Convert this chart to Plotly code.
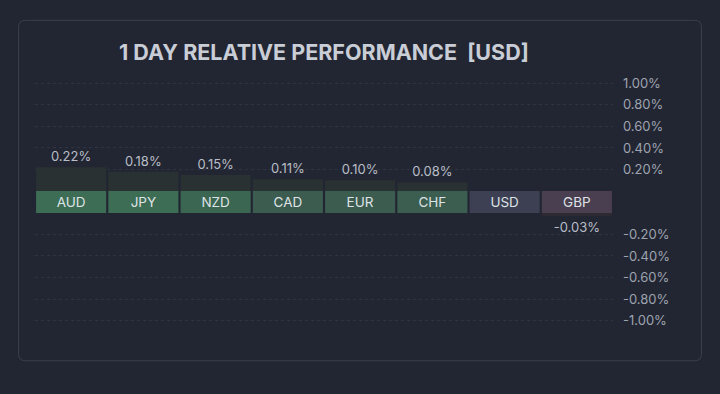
import plotly.graph_objects as go

currencies = ["AUD", "JPY", "NZD", "CAD", "EUR", "CHF", "USD", "GBP"]
changes = [0.22, 0.18, 0.15, 0.11, 0.10, 0.08, 0.00, -0.03]
box_colors = ["#3d6e55", "#3d6d55", "#3b6652", "#3c5c50", "#3c5c50", "#3c5e50", "#3c4052", "#4a3f51"]
pos_ticks = [0.2, 0.4, 0.6, 0.8, 1.0]
neg_ticks = [-0.2, -0.4, -0.6, -0.8, -1.0]
title_text = "1 DAY RELATIVE PERFORMANCE \u00a0[USD]"

W, H = 720, 394
BG = "#222632"
FONT = "Inter, Roboto, sans-serif"

def fx(px):
    return px / W

def fy(px):
    return 1 - px / H

x_dom = [fx(35), fx(613)]

pos_vals = [v if v > 0 else None for v in changes]
neg_vals = [v if v < 0 else None for v in changes]
pos_text = [f"{v:.2f}%" if v > 0 else "" for v in changes]
neg_text = [f"{v:.2f}%" if v < 0 else "" for v in changes]

fig = go.Figure()

fig.add_trace(go.Bar(
    x=currencies, y=pos_vals, text=pos_text, textposition="outside",
    textfont=dict(color="#b9bdc7", size=13, family=FONT),
    marker=dict(color="#2a3132", line=dict(width=0)),
    xaxis="x", yaxis="y", hoverinfo="skip", cliponaxis=False,
))
fig.add_trace(go.Bar(
    x=currencies, y=[1] * len(currencies), text=currencies, textposition="inside",
    insidetextanchor="middle", constraintext="none",
    textfont=dict(color="#dfe2e6", size=13.5, family=FONT),
    marker=dict(color=box_colors, line=dict(width=0)),
    xaxis="x2", yaxis="y2", hoverinfo="skip",
))
fig.add_trace(go.Bar(
    x=currencies, y=neg_vals, text=neg_text, textposition="outside",
    textfont=dict(color="#b9bdc7", size=13, family=FONT),
    marker=dict(color="#2d2a33", line=dict(width=0)),
    xaxis="x3", yaxis="y3", hoverinfo="skip", cliponaxis=False,
))

grid = dict(showgrid=True, gridcolor="#2f3440", griddash="dot", gridwidth=1, zeroline=False,
            side="right", ticks="", ticklabelstandoff=9, showline=False,
            tickfont=dict(color="#9ea3b0", size=13, family=FONT))
xcommon = dict(domain=x_dom, showgrid=False, showticklabels=False, zeroline=False,
               showline=False, ticks="", fixedrange=True)

fig.update_layout(
    width=W, height=H, paper_bgcolor=BG, plot_bgcolor="rgba(0,0,0,0)",
    margin=dict(l=0, r=0, t=0, b=0), showlegend=False, bargap=0.03,
    xaxis=dict(**xcommon, anchor="y"),
    xaxis2=dict(**xcommon, anchor="y2", matches="x"),
    xaxis3=dict(**xcommon, anchor="y3", matches="x"),
    yaxis=dict(**grid, domain=[fy(190.5), fy(75.5)], range=[0, 1.06], anchor="x",
               tickvals=pos_ticks, ticktext=[f"{v:.2f}%" for v in pos_ticks]),
    yaxis2=dict(domain=[fy(212.5), fy(190.5)], range=[0, 1], anchor="x2",
                showgrid=False, showticklabels=False, zeroline=False, ticks=""),
    yaxis3=dict(**grid, domain=[fy(327.5), fy(212.5)], range=[-1.06, 0], anchor="x3",
                tickvals=neg_ticks, ticktext=[f"{v:.2f}%" for v in neg_ticks]),
)

# rounded panel border
x0, x1, y0, y1, r = 18.5, 701.5, 18.5, 361.5, 7
def P(x, y):
    return f"{fx(x):.5f},{fy(y):.5f}"
path = (f"M {P(x0 + r, y0)} L {P(x1 - r, y0)} Q {P(x1, y0)} {P(x1, y0 + r)} "
        f"L {P(x1, y1 - r)} Q {P(x1, y1)} {P(x1 - r, y1)} "
        f"L {P(x0 + r, y1)} Q {P(x0, y1)} {P(x0, y1 - r)} "
        f"L {P(x0, y0 + r)} Q {P(x0, y0)} {P(x0 + r, y0)} Z")
fig.add_shape(type="path", path=path, xref="paper", yref="paper",
              line=dict(color="#3a3f4a", width=1), fillcolor="rgba(0,0,0,0)", layer="below")

fig.add_annotation(text=f"<b>{title_text}</b>", x=fx(324), y=fy(50), xref="paper", yref="paper",
                   xanchor="center", yanchor="middle", showarrow=False,
                   font=dict(size=21.5, color="#c9cdd6", family=FONT))

fig.write_html(
    "out.html",
    config={"displayModeBar": False, "staticPlot": True},
    post_script="document.body.style.margin='0';document.body.style.background='#222632';",
)
